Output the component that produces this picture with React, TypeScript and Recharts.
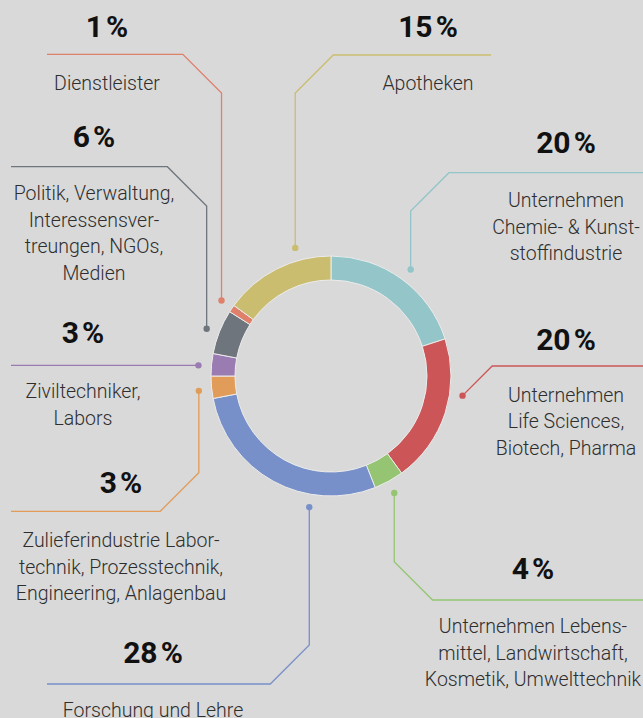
import { PieChart, Pie, Cell } from "recharts";

// Anteile der Branchen (im Uhrzeigersinn ab 12 Uhr)
const categories = [
  ["Unternehmen", "Chemie- & Kunst-", "stoffindustrie"],
  ["Unternehmen", "Life Sciences,", "Biotech, Pharma"],
  ["Unternehmen Lebens-", "mittel, Landwirtschaft,", "Kosmetik, Umwelttechnik"],
  ["Forschung und Lehre"],
  ["Zulieferindustrie Labor-", "technik, Prozesstechnik,", "Engineering, Anlagenbau"],
  ["Ziviltechniker,", "Labors"],
  ["Politik, Verwaltung,", "Interessensver-", "treungen, NGOs,", "Medien"],
  ["Dienstleister"],
  ["Apotheken"],
];
const shares = [20, 20, 4, 28, 3, 3, 6, 1, 15];
const colors = [
  "#93c5c9",
  "#cc5657",
  "#95c572",
  "#7790c9",
  "#e09c58",
  "#9a7bb2",
  "#6e757d",
  "#df806a",
  "#cbbd70",
];

const chartData = shares.map((value, i) => ({
  name: categories[i].join(" "),
  value,
}));

// Beschriftungs-Layout: Punkt-Versatz (Grad, im Uhrzeigersinn), Knick, Linie, Text
const layout = [
  { off: 0.8, elbowY: 211, lineY: 172.7, endX: 643, tx: 566, pctY: 153, labY: 207 },
  { off: -9.5, elbowY: null, lineY: 366, endX: 643, tx: 566, pctY: 350, labY: 401.5 },
  { off: 0.4, elbowY: 561.7, lineY: 600, endX: 643, tx: 533, pctY: 579, labY: 633 },
  { off: -19.4, elbowY: 645, lineY: 684, endX: 47, tx: 153, pctY: 663, labY: 717 },
  { off: -1, elbowY: 472.7, lineY: 511.3, endX: 11, tx: 121, pctY: 493, labY: 547 },
  { off: -0.8, elbowY: null, lineY: null, endX: 11, tx: 83, pctY: 343, labY: 398 },
  { off: -0.8, elbowY: 206, lineY: 166.7, endX: 11, tx: 94, pctY: 147, labY: 200 },
  { off: 0.4, elbowY: 93, lineY: 54.3, endX: 47, tx: 107, pctY: 37, labY: 90 },
  { off: 11.4, elbowY: 93, lineY: 55, endX: 491, tx: 428, pctY: 37, labY: 90 },
];

const RAD = Math.PI / 180;

const renderLabel = (props: any) => {
  const { cx, cy, midAngle, outerRadius, index } = props;
  const l = layout[index];
  const color = colors[index];
  const ang = midAngle - l.off;
  const r = outerRadius + 13;
  const dx = cx + r * Math.cos(ang * RAD);
  const dy = cy - r * Math.sin(ang * RAD);
  const elbowY = l.elbowY ?? dy;
  const lineY = l.lineY ?? elbowY;
  const sign = l.endX > dx ? 1 : -1;
  const diagX = dx + sign * Math.abs(lineY - elbowY);
  const points = `${dx},${dy} ${dx},${elbowY} ${diagX},${lineY} ${l.endX},${lineY}`;
  return (
    <g key={`lab-${index}`}>
      <polyline points={points} fill="none" stroke={color} strokeWidth={1.3} />
      <circle cx={dx} cy={dy} r={3.2} fill={color} />
      <text
        x={l.tx}
        y={l.pctY}
        textAnchor="middle"
        fill="#111"
        fontFamily="Roboto"
        fontWeight={700}
        fontSize={30}
      >
        {`${shares[index]}\u200A%`}
      </text>
      {categories[index].map((line, j) => (
        <text
          key={j}
          x={l.tx}
          y={l.labY + j * 26.7}
          textAnchor="middle"
          fill="#2e2e2e"
          fontFamily="Roboto"
          fontWeight={300}
          fontSize={19.5}
        >
          {line}
        </text>
      ))}
    </g>
  );
};

document.body.style.margin = "0";
document.body.style.background = "#d9d9d9";

export default function App() {
  return (
    <div style={{ width: 643, height: 718, background: "#d9d9d9", overflow: "hidden" }}>
      <PieChart width={643} height={718} margin={{ top: 0, right: 0, bottom: 0, left: 0 }}>
        <Pie
          data={chartData}
          dataKey="value"
          nameKey="name"
          cx={331}
          cy={376}
          innerRadius={96}
          outerRadius={120}
          startAngle={90}
          endAngle={-270}
          stroke="#ececec"
          strokeWidth={1}
          label={renderLabel}
          labelLine={false}
          isAnimationActive={false}
        >
          {chartData.map((_, i) => (
            <Cell key={i} fill={colors[i]} />
          ))}
        </Pie>
      </PieChart>
    </div>
  );
}
